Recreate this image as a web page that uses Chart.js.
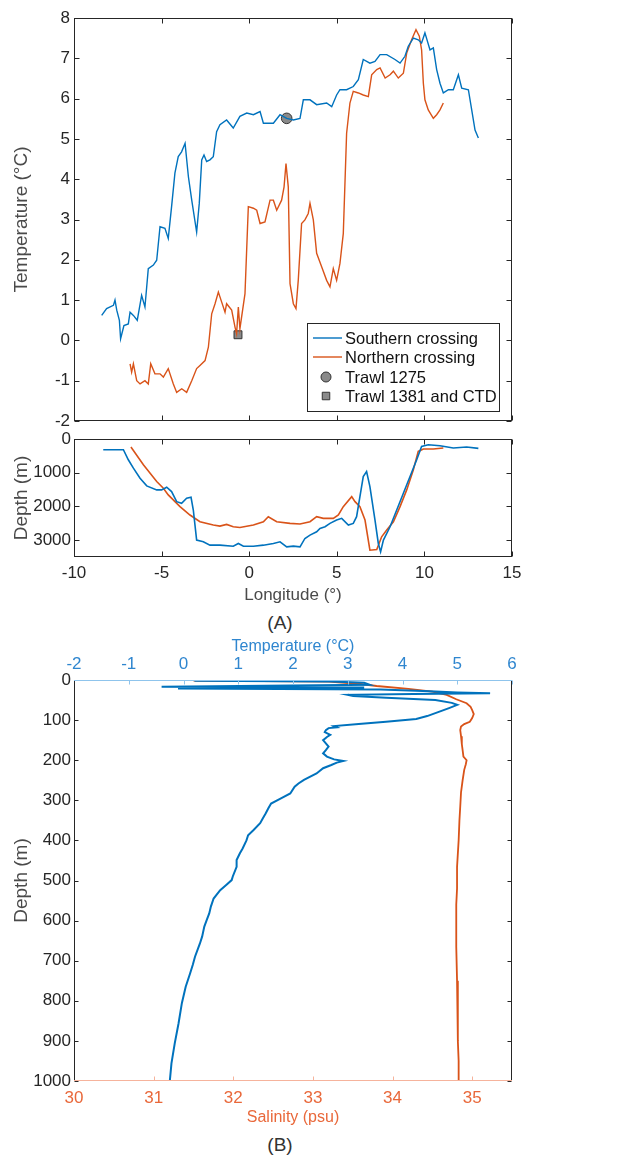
<!DOCTYPE html>
<html>
<head>
<meta charset="utf-8">
<script src="https://cdn.jsdelivr.net/npm/chart.js@4.4.1/dist/chart.umd.min.js"></script>
<style>
  body { margin: 0; background: #fff; }
  #page { position: relative; width: 632px; height: 1159px; font-family: 'Liberation Sans', Arial, sans-serif; }
  canvas { position: absolute; left: 0; }
  .tag { position: absolute; width: 80px; margin-left: -40px; text-align: center; font-size: 19px; color: #333; line-height: 22px; }
</style>
</head>
<body>
<div id="page">
  <canvas id="tempChart" style="top:0px" width="632" height="430"></canvas>
  <canvas id="depthChart" style="top:430px" width="632" height="180"></canvas>
  <div class="tag" style="left:280px;top:612px">(A)</div>
  <canvas id="profileChart" style="top:630px" width="632" height="500"></canvas>
  <div class="tag" style="left:280px;top:1134px">(B)</div>
</div>
<script>
// ---- panel A, temperature along the crossings
const southLon = [-8.42,-8.14,-7.75,-7.66,-7.56,-7.41,-7.34,-7.15,-6.9,-6.8,
  -6.61,-6.39,-6.14,-5.95,-5.76,-5.47,-5.28,-5.09,-4.81,-4.62,
  -4.43,-4.24,-4.05,-3.86,-3.66,-3.47,-3.28,-3.0,-2.85,-2.71,
  -2.58,-2.43,-2.24,-2.05,-1.86,-1.67,-1.29,-0.91,-0.53,-0.14,
  0.24,0.62,0.81,1.38,1.76,2.14,2.52,2.9,3.09,3.47,
  3.85,4.42,4.71,4.99,5.18,5.56,5.94,6.23,6.51,6.89,
  7.18,7.47,7.85,8.32,8.61,8.89,9.08,9.37,9.65,9.84,
  10.03,10.32,10.51,10.7,10.89,11.08,11.37,11.65,11.94,12.13,
  12.51,12.7,12.89,13.08];
const southTemp = [0.62,0.79,0.87,1.0,0.75,0.5,0.04,0.37,0.41,0.7,
  0.62,0.5,1.12,0.83,1.78,1.87,1.99,2.82,2.78,2.53,
  3.32,4.15,4.56,4.68,4.89,4.06,3.48,2.69,3.4,4.48,
  4.6,4.44,4.48,4.56,5.18,5.35,5.47,5.27,5.56,5.64,
  5.6,5.68,5.39,5.39,5.6,5.51,5.47,5.51,5.97,5.97,
  5.85,5.89,5.8,6.09,6.22,6.22,6.3,6.47,6.97,6.88,
  6.92,7.09,7.09,6.97,6.88,7.05,7.3,7.5,7.46,7.38,
  7.63,7.21,7.26,6.72,6.38,6.14,6.22,6.22,6.59,6.26,
  6.22,5.72,5.22,5.02];
const northLon = [-6.8,-6.71,-6.61,-6.42,-6.23,-5.95,-5.76,-5.62,-5.38,-5.09,
  -4.9,-4.62,-4.33,-4.14,-3.85,-3.57,-3.28,-3.0,-2.81,-2.52,
  -2.33,-2.14,-1.95,-1.76,-1.57,-1.38,-1.29,-1.0,-0.81,-0.72,
  -0.62,-0.53,-0.24,-0.05,0.24,0.43,0.62,0.9,1.19,1.38,
  1.57,1.85,1.99,2.1,2.23,2.33,2.52,2.67,2.8,2.99,
  3.18,3.37,3.47,3.66,3.85,4.14,4.42,4.61,4.8,4.99,
  5.18,5.37,5.56,5.75,5.94,6.23,6.51,6.8,6.99,7.28,
  7.47,7.76,8.04,8.23,8.51,8.8,8.99,9.27,9.52,9.71,
  9.84,9.94,10.03,10.22,10.51,10.7,10.89,11.08];
const northTemp = [-0.58,-0.79,-0.58,-1.0,-1.08,-1.0,-1.08,-0.58,-0.83,-0.83,
  -0.91,-0.7,-1.08,-1.29,-1.2,-1.29,-1.0,-0.7,-0.62,-0.5,
  -0.17,0.66,0.91,1.2,0.95,0.7,0.91,0.75,0.33,0.17,
  0.83,0.29,1.16,3.32,3.28,3.23,2.9,2.94,3.48,3.48,
  3.23,3.48,3.81,4.39,3.81,1.41,0.91,0.79,1.49,2.9,
  2.99,3.15,3.4,2.99,2.16,1.82,1.49,1.33,1.78,1.49,
  1.91,2.65,5.14,5.89,6.18,6.14,6.09,6.05,6.59,6.72,
  6.76,6.51,6.59,6.68,6.51,6.63,7.13,7.46,7.71,7.55,
  7.21,6.38,5.97,5.72,5.51,5.6,5.72,5.89];
const trawl1275 = [2.14, 5.51];   // lon, temp
const trawl1381 = [-0.64, 0.14];

// ---- panel A, bottom depth
const southDepthLon = [-8.33,-7.18,-6.9,-6.61,-6.23,-5.85,-5.28,-5.0,-4.71,-4.43,
  -4.14,-3.86,-3.57,-3.32,-3.19,-3.0,-2.62,-2.24,-1.67,-0.91,
  -0.62,-0.33,0.24,0.81,1.38,1.76,2.14,2.52,2.9,3.18,
  3.47,3.85,4.04,4.33,4.61,4.99,5.28,5.66,5.94,6.13,
  6.32,6.51,6.7,6.89,7.18,7.37,7.5,7.66,8.04,8.42,
  8.8,9.18,9.56,9.84,10.22,10.89,11.65,12.41,13.08];
const southDepth = [318,318,616,864,1162,1391,1510,1510,1430,1560,
  1858,1907,1758,1728,2106,3000,3050,3149,3149,3179,
  3099,3179,3179,3149,3099,3050,3199,3179,3199,2950,
  2851,2752,2652,2603,2503,2404,2354,2553,2503,2305,
  1709,1113,964,1411,2404,3099,3348,3000,2603,2106,
  1609,1113,616,219,169,199,268,238,278];
const northDepthLon = [-6.75,-6.04,-5.28,-4.9,-4.62,-3.95,-3.38,-2.81,-2.05,-1.67,
  -1.29,-0.91,-0.53,0.24,0.81,1.09,1.57,2.33,2.9,3.47,
  3.85,4.23,4.8,5.09,5.37,5.85,6.04,6.32,6.61,6.89,
  7.28,7.56,7.85,8.23,8.61,8.99,9.37,9.65,9.94,10.51,
  11.08];
const northDepth = [238,765,1262,1460,1659,2007,2255,2454,2553,2583,
  2533,2603,2623,2553,2454,2305,2454,2503,2523,2454,
  2305,2354,2354,2255,2007,1709,1858,2007,2404,3298,
  3278,2901,2702,2454,2007,1510,914,368,298,298,
  268];

// ---- panel B, CTD profile
const profDepth = [2,4,7,12,17,19,21,24,28,31,
  33,35,37,40,44,50,57,62,70,80,
  90,97,104,110,115,118,120,125,130,137,
  142,150,158,166,175,183,191,198,202,206,
  212,220,233,249,258,266,283,295,308,320,
  333,345,357,374,387,400,420,432,449,466,
  490,499,511,524,545,565,582,600,615,640,
  657,690,710,732,765,806,856,906,956,1000];
const profTemp = [0.2,2.7,3.3,3.4,-0.4,3.3,-0.1,3.6,4.5,5.0,
  5.6,4.2,3.0,3.1,3.7,4.6,4.9,5.0,4.85,4.65,
  4.45,4.25,3.7,3.2,2.75,2.8,2.65,2.6,2.58,2.68,
  2.62,2.55,2.6,2.65,2.6,2.55,2.62,2.75,2.92,2.8,
  2.7,2.55,2.43,2.2,2.1,2.03,1.95,1.78,1.6,1.55,
  1.5,1.45,1.4,1.28,1.18,1.15,1.08,1.03,0.97,0.97,
  0.9,0.88,0.78,0.67,0.55,0.5,0.47,0.42,0.38,0.34,
  0.3,0.21,0.17,0.12,0.04,-0.03,-0.09,-0.16,-0.22,-0.25];
const salDepth = [1.5,4,10,15,22,29,37,48,58,67,
  75,85,95,104,110,116,125,140,160,175,
  191,200,210,224,250,280,316,350,400,466,
  520,560,600,665,750,831,900,950,1000];
const salinity = [31.5,33.2,33.6,33.8,34.2,34.5,34.68,34.8,34.93,34.98,
  35.0,35.02,35.0,34.97,34.9,34.86,34.85,34.86,34.87,34.88,
  34.89,34.93,34.92,34.9,34.88,34.86,34.85,34.84,34.83,34.81,
  34.81,34.8,34.8,34.8,34.81,34.82,34.82,34.83,34.83];

// ---- tick labels
const lonTicks = [-10, -5, 0, 5, 10, 15];
const tempTicksA = [-2, -1, 0, 1, 2, 3, 4, 5, 6, 7, 8];
const depthTicksA = [0, 1000, 2000, 3000];
const tempTicksB = [-2, -1, 0, 1, 2, 3, 4, 5, 6];
const salTicks = [30, 31, 32, 33, 34, 35];
const depthTicksB = [0, 100, 200, 300, 400, 500, 600, 700, 800, 900, 1000];

const BLUE = '#0072BD';
const ORANGE = '#D95319';
const INK = '#262626';
const LABEL = '#4a4a4a';

Chart.defaults.font.family = "'Liberation Sans', Arial, Helvetica, sans-serif";
Chart.defaults.color = INK;

const pts = (xs, ys) => xs.map((x, i) => ({x: x, y: ys[i]}));
const fixed = arr => axis => { axis.ticks = arr.map(v => ({value: v})); };
const plain = v => String(v);
const width = w => s => { s.width = w; s.paddingTop = 0; s.paddingBottom = 0; };
const height = h => s => { s.height = h; s.paddingLeft = 0; s.paddingRight = 0; };
const noGrid = {display: false, drawTicks: false};

// box round the plot with inward tick marks, MATLAB style
const boxAxes = {
  id: 'boxAxes',
  afterDatasetsDraw(chart, args, o) {
    const ctx = chart.ctx, a = chart.chartArea;
    const L = Math.round(a.left) + 0.5, R = Math.round(a.right) - 0.5;
    const T = Math.round(a.top) + 0.5, B = Math.round(a.bottom) - 0.5;
    const n = o.len;
    ctx.save();
    ctx.lineWidth = 1;
    o.marks.forEach(m => {
      const s = chart.scales[m.scale];
      ctx.strokeStyle = m.color;
      s.ticks.forEach(t => {
        const p = Math.round(s.getPixelForValue(t.value)) + 0.5;
        m.edges.forEach(e => {
          ctx.beginPath();
          if (e === 'bottom') { ctx.moveTo(p, B); ctx.lineTo(p, B - n); }
          if (e === 'top') { ctx.moveTo(p, T); ctx.lineTo(p, T + n); }
          if (e === 'left') { ctx.moveTo(L, p); ctx.lineTo(L + n, p); }
          if (e === 'right') { ctx.moveTo(R, p); ctx.lineTo(R - n, p); }
          ctx.stroke();
        });
      });
    });
    const side = (c, x1, y1, x2, y2) => {
      ctx.strokeStyle = c; ctx.beginPath(); ctx.moveTo(x1, y1); ctx.lineTo(x2, y2); ctx.stroke();
    };
    side(o.sides.left, L, T, L, B);
    side(o.sides.right, R, T, R, B);
    side(o.sides.top, L - 0.5, T, R + 0.5, T);
    side(o.sides.bottom, L - 0.5, B, R + 0.5, B);
    ctx.restore();
  }
};

// legend drawn inside the plot, bottom right
const insetLegend = {
  id: 'insetLegend',
  afterDraw(chart, args, o) {
    if (!o.display) return;
    const ctx = chart.ctx;
    ctx.save();
    ctx.fillStyle = '#fff';
    ctx.fillRect(o.x, o.y, o.w, o.h);
    ctx.strokeStyle = INK; ctx.lineWidth = 1;
    ctx.strokeRect(o.x + 0.5, o.y + 0.5, o.w, o.h);
    ctx.font = o.font;
    ctx.textBaseline = 'middle';
    chart.data.datasets.forEach((ds, i) => {
      const y = o.rows[i];
      if (ds.showLine) {
        ctx.strokeStyle = ds.borderColor; ctx.lineWidth = ds.borderWidth;
        ctx.beginPath(); ctx.moveTo(o.x + 6, y); ctx.lineTo(o.x + 35, y); ctx.stroke();
      } else {
        const cx = o.x + 19, r = o.markR;
        ctx.fillStyle = ds.backgroundColor; ctx.strokeStyle = ds.borderColor; ctx.lineWidth = 1;
        ctx.beginPath();
        if (ds.pointStyle === 'rect') ctx.rect(cx - r * 0.75, y - r * 0.75, r * 1.5, r * 1.5);
        else ctx.arc(cx, y, r, 0, Math.PI * 2);
        ctx.fill(); ctx.stroke();
      }
      ctx.fillStyle = '#111';
      ctx.fillText(ds.label, o.x + 38, y + 1);
    });
    ctx.restore();
  }
};

const base = {
  responsive: false,
  animation: false,
  devicePixelRatio: 1,
  events: []
};

new Chart(document.getElementById('tempChart'), {
  type: 'scatter',
  plugins: [boxAxes, insetLegend],
  data: {
    datasets: [
      {label: 'Southern crossing', data: pts(southLon, southTemp), showLine: true, borderColor: BLUE, borderWidth: 1.4, pointRadius: 0},
      {label: 'Northern crossing', data: pts(northLon, northTemp), showLine: true, borderColor: ORANGE, borderWidth: 1.4, pointRadius: 0},
      {label: 'Trawl 1275', data: [{x: trawl1275[0], y: trawl1275[1]}], pointStyle: 'circle', pointRadius: 5.3, backgroundColor: '#8a8a8a', borderColor: '#333', borderWidth: 1},
      {label: 'Trawl 1381 and CTD', data: [{x: trawl1381[0], y: trawl1381[1]}], pointStyle: 'rect', pointRadius: 5.6, backgroundColor: '#8a8a8a', borderColor: '#333', borderWidth: 1}
    ]
  },
  options: Object.assign({}, base, {
    layout: {padding: {top: 18, right: 120, bottom: 9, left: 0}},
    plugins: {
      legend: {display: false}, tooltip: {enabled: false},
      boxAxes: {len: 5, sides: {top: INK, right: INK, bottom: INK, left: INK},
        marks: [{scale: 'x', edges: ['bottom', 'top'], color: INK}, {scale: 'y', edges: ['left', 'right'], color: INK}]},
      insetLegend: {display: true, x: 307, y: 323, w: 192, h: 88, rows: [338, 357, 377, 396], font: "16.5px 'Liberation Sans', Arial, sans-serif", markR: 5}
    },
    scales: {
      x: {type: 'linear', min: -10, max: 15, afterBuildTicks: fixed(lonTicks), afterFit: height(0),
        ticks: {display: false}, grid: noGrid, border: {display: false}},
      y: {type: 'linear', min: -2, max: 8, afterBuildTicks: fixed(tempTicksA), afterFit: width(74),
        ticks: {padding: 4, font: {size: 17}, color: INK, callback: plain},
        grid: noGrid, border: {display: false},
        title: {display: true, text: 'Temperature (°C)', font: {size: 19}, color: LABEL, padding: {top: 10, bottom: 0}}}
    }
  })
});

new Chart(document.getElementById('depthChart'), {
  type: 'scatter',
  plugins: [boxAxes],
  data: {
    datasets: [
      {label: 'Southern crossing', data: pts(southDepthLon, southDepth), showLine: true, borderColor: BLUE, borderWidth: 1.6, pointRadius: 0},
      {label: 'Northern crossing', data: pts(northDepthLon, northDepth), showLine: true, borderColor: ORANGE, borderWidth: 1.6, pointRadius: 0}
    ]
  },
  options: Object.assign({}, base, {
    layout: {padding: {top: 9, right: 120, bottom: 0, left: 0}},
    plugins: {
      legend: {display: false}, tooltip: {enabled: false},
      boxAxes: {len: 5, sides: {top: INK, right: INK, bottom: INK, left: INK},
        marks: [{scale: 'x', edges: ['bottom', 'top'], color: INK}, {scale: 'y', edges: ['left', 'right'], color: INK}]}
    },
    scales: {
      x: {type: 'linear', min: -10, max: 15, afterBuildTicks: fixed(lonTicks), afterFit: height(53),
        ticks: {padding: 6, font: {size: 17}, color: INK, callback: plain, maxRotation: 0},
        grid: noGrid, border: {display: false},
        title: {display: true, text: 'Longitude (°)', font: {size: 17}, color: LABEL, padding: {top: 0, bottom: 4}}},
      y: {type: 'linear', min: 0, max: 3500, reverse: true, afterBuildTicks: fixed(depthTicksA), afterFit: width(74),
        ticks: {padding: 3, font: {size: 17}, color: INK, callback: plain},
        grid: noGrid, border: {display: false},
        title: {display: true, text: 'Depth (m)', font: {size: 19}, color: LABEL, padding: {top: 10, bottom: 0}}}
    }
  })
});

const TBLUE = '#2F86CF', TBLUE_AX = '#8FC4EC';
const SORANGE = '#E9683A', SORANGE_AX = '#F6B39C';

new Chart(document.getElementById('profileChart'), {
  type: 'scatter',
  plugins: [boxAxes],
  data: {
    datasets: [
      {label: 'Temperature', data: pts(profTemp, profDepth), xAxisID: 'xt', showLine: true, borderColor: BLUE, borderWidth: 2, pointRadius: 0},
      {label: 'Salinity', data: pts(salinity, salDepth), xAxisID: 'xs', showLine: true, borderColor: ORANGE, borderWidth: 1.8, pointRadius: 0}
    ]
  },
  options: Object.assign({}, base, {
    layout: {padding: {top: 0, right: 120, bottom: 0, left: 0}},
    plugins: {
      legend: {display: false}, tooltip: {enabled: false},
      boxAxes: {len: 4, sides: {top: TBLUE_AX, right: INK, bottom: SORANGE_AX, left: INK},
        marks: [{scale: 'xt', edges: ['top'], color: TBLUE_AX}, {scale: 'xs', edges: ['bottom'], color: SORANGE_AX},
                {scale: 'y', edges: ['left', 'right'], color: INK}]}
    },
    scales: {
      xt: {type: 'linear', position: 'top', min: -2, max: 6, afterBuildTicks: fixed(tempTicksB), afterFit: height(50),
        ticks: {padding: 5, font: {size: 17}, color: TBLUE, callback: plain, maxRotation: 0},
        grid: noGrid, border: {display: false},
        title: {display: true, text: 'Temperature (°C)', font: {size: 16}, color: TBLUE, padding: {top: 7, bottom: 0}}},
      xs: {type: 'linear', position: 'bottom', min: 30, max: 35.5, afterBuildTicks: fixed(salTicks), afterFit: height(49),
        ticks: {padding: 7, font: {size: 17}, color: SORANGE, callback: plain, maxRotation: 0},
        grid: noGrid, border: {display: false},
        title: {display: true, text: 'Salinity (psu)', font: {size: 16}, color: SORANGE, padding: {top: 0, bottom: 3}}},
      y: {type: 'linear', min: 0, max: 1000, reverse: true, afterBuildTicks: fixed(depthTicksB), afterFit: width(74),
        ticks: {padding: 3, font: {size: 17}, color: INK, callback: plain},
        grid: noGrid, border: {display: false},
        title: {display: true, text: 'Depth (m)', font: {size: 19}, color: LABEL, padding: {top: 10, bottom: 0}}}
    }
  })
});
</script>
</body>
</html>
